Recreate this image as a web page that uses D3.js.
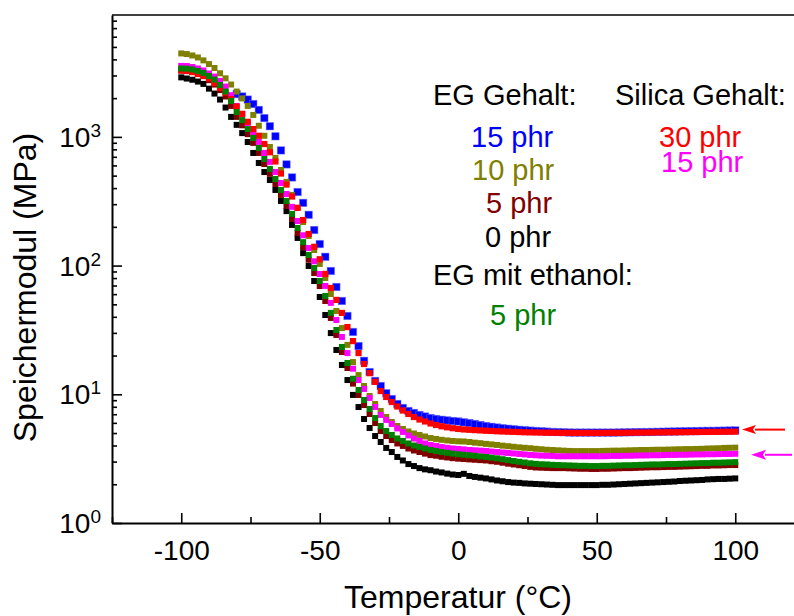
<!DOCTYPE html>
<html>
<head>
<meta charset="utf-8">
<script src="https://cdn.jsdelivr.net/npm/d3@7"></script>
<style>
  html, body { margin: 0; padding: 0; background: #fff; }
  svg { display: block; font-family: "Liberation Sans", Arial, Helvetica, sans-serif; }
</style>
</head>
<body>
<svg id="chart" width="794" height="616"></svg>
<script>
// Storage modulus (MPa) vs temperature (°C), DMA temperature sweep
const temperature = [
  -100,-98,-96,-94,-92,-90,-88,-86,-84,-82,
  -80,-78,-76,-74,-72,-70,-68,-66,-64,-62,
  -60,-58,-56,-54,-52,-50,-48,-46,-44,-42,
  -40,-38,-36,-34,-32,-30,-28,-26,-24,-22,
  -20,-18,-16,-14,-12,-10,-8,-6,-4,-2,
  0,2,4,6,8,10,12,14,16,18,
  20,22,24,26,28,30,32,34,36,38,
  40,42,44,46,48,50,52,54,56,58,
  60,62,64,66,68,70,72,74,76,78,
  80,82,84,86,88,90,92,94,96,98,
  100
];

// EG content 15 phr
const eg15 = [
  null,null,null,null,null,null,null,null,null,null,
  2150,2060,1950,1800,1620,1400,1210,1010,785,611,
  484,373,307,248,189,147,117,90.8,68.2,53.1,
  40.6,30.5,23.7,18.2,14.9,12.7,11.6,10.2,9.19,8.41,
  7.83,7.42,7.16,6.91,6.72,6.54,6.43,6.34,6.27,6.20,
  6.15,6.06,5.98,5.88,5.77,5.67,5.59,5.52,5.45,5.40,
  5.35,5.30,5.26,5.22,5.19,5.16,5.13,5.10,5.09,5.07,
  5.05,5.04,5.04,5.04,5.04,5.04,5.04,5.04,5.04,5.05,
  5.06,5.07,5.08,5.09,5.09,5.10,5.11,5.12,5.13,5.14,
  5.15,5.16,5.17,5.18,5.19,5.20,5.20,5.21,5.22,5.23,
  5.24
];

// EG content 10 phr
const eg10 = [
  4450,4400,4290,4140,3930,3680,3430,3120,2850,2550,
  2250,1990,1740,1480,1220,1020,835,686,553,447,
  354,281,218,170,132,103,80.1,60.1,44.4,32.7,
  24.2,17.8,14.1,11.6,9.70,8.41,7.42,6.66,6.09,5.67,
  5.38,5.14,4.96,4.83,4.70,4.57,4.50,4.43,4.38,4.34,
  4.31,4.30,4.26,4.21,4.17,4.12,4.08,4.04,3.99,3.95,
  3.91,3.87,3.84,3.81,3.77,3.74,3.71,3.69,3.67,3.65,
  3.63,3.62,3.62,3.62,3.62,3.62,3.63,3.64,3.65,3.65,
  3.66,3.67,3.68,3.69,3.69,3.70,3.71,3.71,3.72,3.73,
  3.74,3.75,3.75,3.76,3.77,3.79,3.80,3.81,3.83,3.84,
  3.85
];

// EG content 5 phr
const eg5 = [
  3280,3270,3220,3100,2980,2760,2550,2310,2060,1740,
  1430,1230,1050,898,750,615,516,430,354,291,
  230,179,139,111,87.5,69.4,53.1,39.2,28.9,21.3,
  16.0,12.1,9.87,8.25,7.03,5.98,5.18,4.74,4.41,4.15,
  3.97,3.79,3.66,3.56,3.46,3.37,3.33,3.27,3.23,3.19,
  3.16,3.14,3.12,3.10,3.08,3.06,3.02,2.99,2.94,2.89,
  2.85,2.81,2.77,2.73,2.70,2.69,2.68,2.67,2.67,2.67,
  2.66,2.65,2.64,2.64,2.63,2.63,2.64,2.64,2.65,2.66,
  2.67,2.67,2.68,2.69,2.70,2.71,2.71,2.72,2.73,2.73,
  2.74,2.75,2.76,2.77,2.78,2.78,2.80,2.80,2.81,2.82,
  2.82
];

// EG content 0 phr
const eg0 = [
  2900,2840,2780,2690,2580,2370,2170,1950,1690,1430,
  1240,1070,912,750,627,533,462,387,318,265,
  207,164,125,99.3,75.9,57.0,41.3,29.9,22.1,16.9,
  12.9,9.89,7.96,6.43,5.47,4.74,4.26,3.83,3.56,3.26,
  3.06,2.87,2.77,2.67,2.61,2.57,2.51,2.47,2.42,2.38,
  2.36,2.41,2.32,2.28,2.25,2.22,2.18,2.14,2.11,2.08,
  2.06,2.05,2.03,2.02,2.01,2.00,1.99,1.98,1.97,1.97,
  1.97,1.97,1.97,1.97,1.97,1.97,1.98,1.98,1.99,2.00,
  2.01,2.02,2.03,2.04,2.05,2.06,2.07,2.08,2.09,2.10,
  2.12,2.13,2.14,2.15,2.16,2.18,2.19,2.20,2.20,2.21,
  2.22
];

// EG with ethanol, 5 phr
const egEthanol5 = [
  3400,3390,3340,3250,3140,2970,2790,2530,2250,1900,
  1560,1350,1150,982,821,673,564,471,387,318,
  252,196,152,121,95.7,75.9,58.1,42.9,31.6,23.3,
  17.5,13.2,10.8,9.03,7.69,6.54,5.67,5.19,4.83,4.54,
  4.34,4.15,4.00,3.90,3.79,3.69,3.63,3.56,3.51,3.46,
  3.42,3.39,3.36,3.33,3.29,3.26,3.22,3.18,3.13,3.08,
  3.03,2.99,2.95,2.91,2.88,2.86,2.85,2.83,2.82,2.81,
  2.80,2.79,2.78,2.78,2.77,2.77,2.78,2.78,2.79,2.80,
  2.81,2.81,2.82,2.83,2.84,2.85,2.85,2.86,2.87,2.87,
  2.88,2.89,2.90,2.91,2.92,2.92,2.94,2.94,2.95,2.96,
  2.97
];

// Silica content 30 phr
const silica30 = [
  3280,3250,3190,3080,2970,2840,2620,2400,2210,1970,
  1720,1510,1310,1150,1020,880,759,644,519,426,
  344,281,226,176,140,112,86.1,67.0,54.1,42.9,
  33.3,25.9,20.9,17.2,14.6,12.5,10.6,9.53,8.71,8.04,
  7.48,7.03,6.66,6.37,6.15,5.93,5.77,5.64,5.54,5.45,
  5.38,5.33,5.30,5.27,5.24,5.21,5.19,5.16,5.14,5.12,
  5.11,5.09,5.07,5.06,5.05,5.04,5.03,5.03,5.02,5.02,
  5.02,5.01,5.01,5.01,5.01,5.01,5.01,5.02,5.02,5.02,
  5.03,5.03,5.04,5.04,5.05,5.05,5.06,5.06,5.07,5.07,
  5.08,5.08,5.09,5.09,5.10,5.10,5.11,5.11,5.12,5.12,
  5.13
];

// Silica content 15 phr
const silica15 = [
  3560,3550,3490,3400,3280,3110,2940,2720,2460,2110,
  1740,1500,1280,1090,914,749,639,534,438,360,
  286,222,172,137,108,86.0,69.5,51.3,37.8,27.9,
  20.9,15.8,12.9,11.0,9.37,7.97,6.91,6.32,5.88,5.43,
  5.10,4.79,4.53,4.34,4.15,4.04,3.97,3.89,3.84,3.79,
  3.76,3.73,3.69,3.67,3.65,3.63,3.59,3.56,3.53,3.50,
  3.47,3.44,3.41,3.38,3.36,3.34,3.33,3.32,3.30,3.30,
  3.30,3.30,3.30,3.30,3.30,3.30,3.30,3.31,3.32,3.32,
  3.33,3.33,3.34,3.35,3.35,3.36,3.36,3.37,3.38,3.38,
  3.39,3.39,3.40,3.41,3.41,3.42,3.42,3.43,3.44,3.44,
  3.45
];

const xTicksMajor = [-100, -50, 0, 50, 100];
const xTicksMinor = [-125, -75, -25, 25, 75, 125];
const yTicksMajor = [1, 10, 100, 1000];
const yTickExponents = ["0", "1", "2", "3"];

const svg = d3.select("#chart");
const W = 794, H = 616;
svg.append("rect").attr("width", W).attr("height", H).attr("fill", "#fff");

const x = d3.scaleLinear().domain([-125, 125]).range([112, 804.5]);
const y = d3.scaleLog().domain([1, 8850]).range([523, 15]);

// Square markers for each sample, bottom layer first
const series = [
  { values: eg15,       color: "#0000ff", size: 7.4, edge: "#6f6fff" },
  { values: eg0,        color: "#000000", size: 6.0 },
  { values: eg10,       color: "#808000", size: 6.0 },
  { values: eg5,        color: "#800000", size: 6.0 },
  { values: silica15,   color: "#ff00ff", size: 6.0 },
  { values: silica30,   color: "#ff0000", size: 6.2 },
  { values: egEthanol5, color: "#008000", size: 6.0 }
];

const marks = svg.append("g");
series.forEach(s => {
  const pts = temperature.map((t, i) => [t, s.values[i]]).filter(d => d[1] != null);
  const g = marks.append("g");
  g.selectAll("rect")
    .data(pts)
    .join("rect")
    .attr("x", d => x(d[0]) - s.size / 2)
    .attr("y", d => y(d[1]) - s.size / 2)
    .attr("width", s.size)
    .attr("height", s.size)
    .attr("fill", s.color)
    .attr("stroke", s.edge || "none")
    .attr("stroke-width", s.edge ? 0.8 : 0)
    .attr("stroke-opacity", 0.6);
});

// Axes: ticks point into the plot
const xMajor = svg.append("g").attr("transform", "translate(0,523)")
  .call(d3.axisBottom(x).tickValues(xTicksMajor).tickSizeInner(-10).tickSizeOuter(0)
    .tickPadding(17).tickFormat(d => String(d)));
const xMinor = svg.append("g").attr("transform", "translate(0,523)")
  .call(d3.axisBottom(x).tickValues(xTicksMinor).tickSizeInner(-6).tickSizeOuter(0).tickFormat(""));
xMinor.select(".domain").remove();

const yMajor = svg.append("g").attr("transform", "translate(112,0)")
  .call(d3.axisLeft(y).tickValues(yTicksMajor).tickSizeInner(-10).tickSizeOuter(0).tickFormat(""));
const yMinorVals = y.ticks().filter(v => !yTicksMajor.includes(v));
const yMinor = svg.append("g").attr("transform", "translate(112,0)")
  .call(d3.axisLeft(y).tickValues(yMinorVals).tickSizeInner(-5).tickSizeOuter(0).tickFormat(""));
yMinor.select(".domain").remove();

svg.selectAll(".domain").attr("stroke", "#000").attr("stroke-width", 2);
svg.selectAll(".tick line").attr("stroke", "#000").attr("stroke-width", 1.6);
xMajor.selectAll(".tick text")
  .attr("font-size", 28).attr("fill", "#000")
  .attr("font-family", "'Liberation Sans', Arial, sans-serif");

// top frame line
svg.append("line")
  .attr("x1", x.range()[0]).attr("x2", x.range()[1])
  .attr("y1", y.range()[1]).attr("y2", y.range()[1])
  .attr("stroke", "#000").attr("stroke-width", 1.4);

// y tick labels as powers of ten
const yLab = svg.append("g");
yTicksMajor.forEach((v, i) => {
  const t = yLab.append("text")
    .attr("x", 101).attr("y", y(v) + 10)
    .attr("text-anchor", "end").attr("font-size", 28).attr("fill", "#000");
  t.append("tspan").text("10");
  t.append("tspan").attr("dy", -10).attr("font-size", 19).text(yTickExponents[i]);
});

// axis titles
svg.append("text")
  .attr("x", 458).attr("y", 608)
  .attr("text-anchor", "middle").attr("font-size", 32).attr("fill", "#000")
  .text("Temperatur (°C)");
svg.append("text")
  .attr("transform", "translate(36,287.5) rotate(-90)")
  .attr("text-anchor", "middle").attr("font-size", 32).attr("fill", "#000")
  .text("Speichermodul (MPa)");

// legend text
const legend = svg.append("g").attr("font-size", 29);
[
  ["EG Gehalt:", 433, 105, "#000000"],
  ["15 phr", 471, 147, "#0000ff"],
  ["10 phr", 472, 180, "#808000"],
  ["5 phr", 486, 213, "#800000"],
  ["0 phr", 485, 247, "#000000"],
  ["EG mit ethanol:", 433, 285, "#000000"],
  ["5 phr", 490, 325, "#008000"],
  ["Silica Gehalt:", 615, 105, "#000000"],
  ["30 phr", 659, 147, "#ff0000"],
  ["15 phr", 661, 172, "#ff00ff"]
].forEach(([label, lx, ly, c]) => {
  legend.append("text").attr("x", lx).attr("y", ly).attr("fill", c).text(label);
});

// arrows marking the silica-filled samples at the end of the sweep
function arrow(yPos, tipX, tailX, color, headLen, headHalf) {
  const g = svg.append("g");
  g.append("line")
    .attr("x1", tipX + headLen - 1).attr("x2", tailX)
    .attr("y1", yPos).attr("y2", yPos)
    .attr("stroke", color).attr("stroke-width", 2);
  g.append("path")
    .attr("d", `M${tipX},${yPos} L${tipX + headLen},${yPos - headHalf} L${tipX + headLen - 3},${yPos} L${tipX + headLen},${yPos + headHalf} Z`)
    .attr("fill", color);
}
arrow(y(silica30[silica30.length - 1]) - 2, 742, 785, "#ff0000", 14, 4.5);
arrow(y(silica15[silica15.length - 1]) + 1, 751, 792, "#ff00ff", 15, 5);
</script>
</body>
</html>
